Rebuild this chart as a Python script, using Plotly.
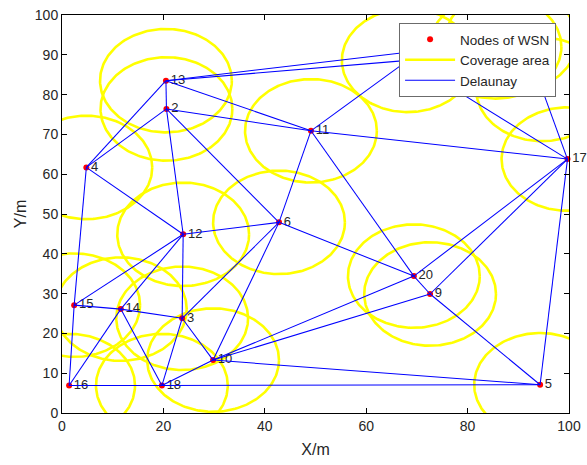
import numpy as np
import plotly.graph_objects as go

# ---- data ----
node_ids = list(range(1, 21))
node_x = [94.7, 20.6, 23.7, 4.8, 94.3, 42.8, 68.2, 85.5, 72.6, 29.8,
          49.1, 23.9, 20.5, 11.6, 2.4, 1.4, 99.7, 19.7, 88.6, 69.4]
node_y = [81.3, 76.4, 23.8, 61.7, 7.1, 47.9, 88.6, 92.0, 29.9, 13.3,
          70.9, 44.9, 83.5, 26.1, 27.1, 6.9, 63.8, 6.9, 93.7, 34.4]
coverage_radius = 13.0

# Delaunay edges (node id pairs)
edges = [
    (13, 4), (13, 2), (13, 11), (13, 7), (13, 19),
    (2, 4), (2, 11), (2, 12), (2, 6),
    (4, 12), (4, 15),
    (11, 6), (11, 20), (11, 17), (11, 7),
    (6, 12), (6, 20), (6, 3), (6, 10),
    (12, 15), (12, 14), (12, 3),
    (15, 14), (15, 16),
    (14, 3), (14, 16), (14, 18),
    (3, 18), (3, 10),
    (10, 18), (10, 20), (10, 9), (10, 5),
    (16, 18), (18, 5),
    (20, 9), (20, 17), (9, 17), (9, 5),
    (5, 17), (17, 1), (17, 7),
    (7, 19), (7, 8), (8, 19), (8, 1), (19, 1), (7, 1),
]

x_ticks = [0, 20, 40, 60, 80, 100]
y_ticks = [0, 10, 20, 30, 40, 50, 60, 70, 80, 90, 100]

FONT = "Liberation Sans, Arial, sans-serif"
TXT = "#262626"

# ---- build traces ----
pos = {i: (x, y) for i, x, y in zip(node_ids, node_x, node_y)}

theta = np.linspace(0, 2 * np.pi, 241)
cx, cy = [], []
for x0, y0 in zip(node_x, node_y):
    cx.extend(list(x0 + coverage_radius * np.cos(theta)) + [None])
    cy.extend(list(y0 + coverage_radius * np.sin(theta)) + [None])

ex, ey = [], []
for a, b in edges:
    ex.extend([pos[a][0], pos[b][0], None])
    ey.extend([pos[a][1], pos[b][1], None])

fig = go.Figure()
fig.add_trace(go.Scatter(
    x=cx, y=cy, mode="lines", name="Coverage area",
    line=dict(color="#FFFF00", width=2.6), legendrank=2, hoverinfo="skip"))
fig.add_trace(go.Scatter(
    x=node_x, y=node_y, mode="markers+text", name="Nodes of WSN",
    text=[str(i) for i in node_ids], textposition="middle right",
    textfont=dict(family=FONT, size=13, color=TXT),
    marker=dict(color="#FF0000", size=6), cliponaxis=False, legendrank=1))
fig.add_trace(go.Scatter(
    x=ex, y=ey, mode="lines", name="Delaunay",
    line=dict(color="#0000FF", width=1.05), legendrank=3, hoverinfo="skip"))

axis_common = dict(
    showline=True, linecolor="black", linewidth=1, mirror="ticks",
    ticks="inside", ticklen=5, tickcolor="black", showgrid=False, zeroline=False,
    automargin=False, ticklabeloverflow="allow",
    tickfont=dict(family=FONT, size=14, color=TXT),
)
fig.update_xaxes(range=[0, 100], tickvals=x_ticks, **axis_common,
                 title=dict(text="X/m", standoff=11,
                            font=dict(family=FONT, size=16, color=TXT)))
fig.update_yaxes(range=[0, 100], tickvals=y_ticks, **axis_common,
                 title=dict(text="Y/m", standoff=4,
                            font=dict(family=FONT, size=16, color=TXT)))

fig.update_layout(
    width=587, height=465, autosize=False,
    margin=dict(l=62, r=18, t=15, b=52),
    plot_bgcolor="white", paper_bgcolor="white",
    font=dict(family=FONT, color=TXT),
    legend=dict(x=0.9745, xanchor="right", y=0.98, yanchor="top",
                bgcolor="white", bordercolor="#6b6b6b", borderwidth=1,
                font=dict(family=FONT, size=13.5, color=TXT),
                itemwidth=50, tracegroupgap=0),
    showlegend=True,
)

# remove the default page margin so the figure sits at the window's corner
fig.write_html("out.html",
               config={"displayModeBar": False},
               post_script="document.body.style.margin='0';document.body.style.overflow='hidden';")
